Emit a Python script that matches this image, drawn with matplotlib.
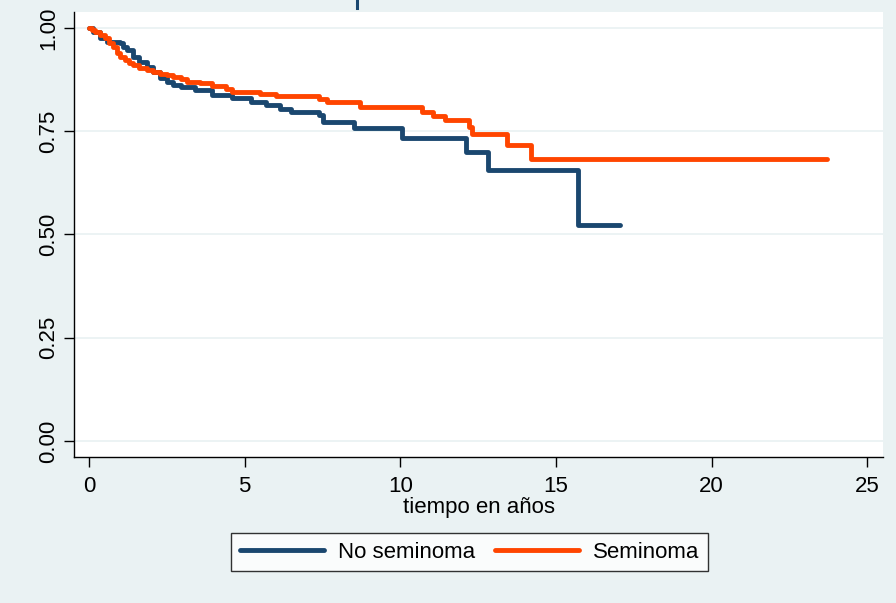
import matplotlib
matplotlib.use("Agg")
import matplotlib.pyplot as plt
from matplotlib.lines import Line2D

plt.rcParams['font.family'] = ['Liberation Sans', 'DejaVu Sans']

# Kaplan-Meier step data
no_sem_t = [0, 0.13, 0.35, 0.58, 1.0, 1.1, 1.22, 1.42, 1.6, 1.86, 2.05, 2.28, 2.5,
            2.7, 2.95, 3.4, 3.95, 4.6, 5.2, 5.7, 6.15, 6.5, 7.4, 7.52, 8.5, 10.06,
            12.1, 12.8, 15.7, 17.07]
no_sem_s = [1.0, 0.99, 0.975, 0.967, 0.963, 0.955, 0.947, 0.93, 0.918, 0.906, 0.893,
            0.879, 0.87, 0.862, 0.858, 0.85, 0.838, 0.83, 0.822, 0.814, 0.804, 0.797,
            0.789, 0.773, 0.757, 0.734, 0.70, 0.656, 0.523, 0.523]

sem_t = [0, 0.1, 0.2, 0.35, 0.5, 0.65, 0.77, 0.9, 1.0, 1.15, 1.3, 1.42, 1.6, 1.86,
         2.05, 2.28, 2.5, 2.7, 2.95, 3.15, 3.57, 3.95, 4.4, 4.6, 5.5, 6.0, 7.4, 7.65,
         8.7, 10.7, 11.06, 11.45, 12.19, 12.3, 13.43, 14.18, 23.7]
sem_s = [1.0, 0.995, 0.99, 0.984, 0.975, 0.965, 0.955, 0.94, 0.93, 0.922, 0.915,
         0.91, 0.903, 0.898, 0.893, 0.89, 0.886, 0.882, 0.876, 0.87, 0.866, 0.86,
         0.852, 0.846, 0.84, 0.835, 0.828, 0.822, 0.808, 0.797, 0.787, 0.777,
         0.761, 0.743, 0.718, 0.683, 0.683]

x_ticks = [0, 5, 10, 15, 20, 25]
y_ticks = [0.0, 0.25, 0.5, 0.75, 1.0]
y_ticklabels = ["0.00", "0.25", "0.50", "0.75", "1.00"]
labels = ["No seminoma", "Seminoma"]

BG = "#EAF2F3"
BLUE = "#1A476F"
ORANGE = "#FF4500"
FS = 16

fig = plt.figure(figsize=(8.96, 6.03), dpi=100, facecolor=BG)
ax = fig.add_axes([74/896, (603-457)/603, (883-74)/896, (457-12)/603])
ax.set_facecolor("white")

ax.step(no_sem_t, no_sem_s, where="post", color=BLUE, lw=3.5, solid_capstyle="round",
        solid_joinstyle="round", zorder=3)
ax.step(sem_t, sem_s, where="post", color=ORANGE, lw=3.5, solid_capstyle="round",
        solid_joinstyle="round", zorder=4)

ax.set_xlim(-0.48, 25.5)
ax.set_ylim(-0.039, 1.039)
ax.set_xticks(x_ticks)
ax.set_yticks(y_ticks)
ax.set_yticklabels(y_ticklabels, rotation=90, va="center")
ax.yaxis.grid(True, color=BG, lw=1.3, zorder=0)
ax.set_axisbelow(True)

for s in ["top", "right"]:
    ax.spines[s].set_visible(False)
for s in ["left", "bottom"]:
    ax.spines[s].set_linewidth(1.0)
    ax.spines[s].set_color("black")

ax.tick_params(axis="both", length=7.5, width=1.0, labelsize=FS, colors="black")
ax.tick_params(axis="x", pad=6)
ax.tick_params(axis="y", pad=3)

ax.set_xlabel("tiempo en años", fontsize=FS, labelpad=0)

handles = [Line2D([0], [0], color=BLUE, lw=3.5, solid_capstyle="round"),
           Line2D([0], [0], color=ORANGE, lw=3.5, solid_capstyle="round")]
leg = fig.legend(handles, labels, loc="center", bbox_to_anchor=(469.5/896, 1 - 552/603),
                 ncol=2, fontsize=FS, frameon=True, fancybox=False,
                 handlelength=3.8, handletextpad=0.6, columnspacing=0.9,
                 borderpad=0.4, borderaxespad=0)
leg.get_frame().set_edgecolor("black")
leg.get_frame().set_linewidth(1.0)
leg.get_frame().set_facecolor("white")

# small mark at the top edge
fig.add_artist(Line2D([357/896, 357/896], [1 - 1/603, 1 - 8/603], color=BLUE, lw=2.2))

fig.savefig("out.png", dpi=100, facecolor=BG)
